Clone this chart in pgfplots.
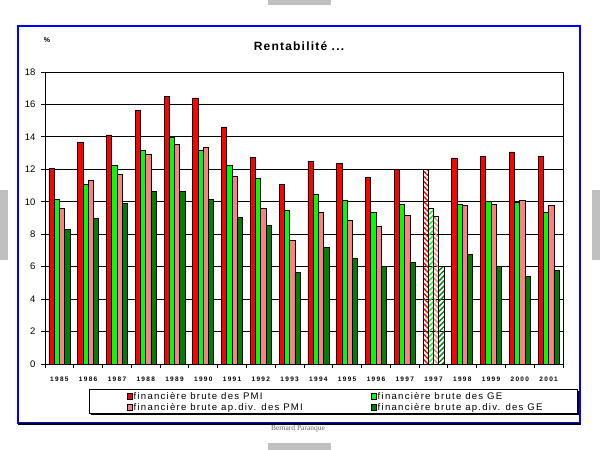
\documentclass[border=0pt]{standalone}
\usepackage{pgfplots}
\pgfplotsset{compat=1.18}
\usepackage{pgfplotstable}
\usetikzlibrary{patterns.meta}
\usepackage{fontspec}
\setmainfont{Liberation Sans}
\newfontfamily\tickfont[LetterSpace=20]{Liberation Sans}
\newfontfamily\legfont[LetterSpace=13]{Liberation Sans}
\newfontfamily\titlefont[LetterSpace=10]{Liberation Sans}
\newfontfamily\credfont{Liberation Serif}
\definecolor{cRed}{HTML}{FF0000}
\definecolor{cGreen}{HTML}{00FF00}
\definecolor{cPink}{HTML}{FF8080}
\definecolor{cDark}{HTML}{008000}
\definecolor{cGray}{HTML}{C0C0C0}

% x: 0..17 (13 = hatched 1997)
\pgfplotstableread{
x pmi ge pmiap geap
0 12.08 10.17 9.61 8.27
1 13.68 11.09 11.34 8.99
2 14.12 12.22 11.67 9.88
3 15.62 13.19 12.94 10.66
4 16.52 13.99 13.56 10.66
5 16.40 13.19 13.33 10.17
6 14.61 12.22 11.54 9.05
7 12.76 11.46 9.61 8.56
8 11.09 9.49 7.63 5.66
9 12.51 10.47 9.36 7.20
10 12.39 10.10 8.87 6.52
11 11.52 9.36 8.50 6.03
12 12.02 9.86 9.18 6.28
14 12.70 9.86 9.80 6.77
15 12.82 10.04 9.86 6.03
16 13.07 9.98 10.10 5.41
17 12.82 9.36 9.80 5.78
}\maindata
\pgfplotstableread{
x pmi ge pmiap geap
13 12.02 9.61 9.12 6.03
}\hatchdata

\begin{document}
\begin{tikzpicture}[x=1pt,y=1pt]
\fill[white] (0,0) rectangle (600,450);
% page decorations
\fill[cGray] (268,445) rectangle (331,450);
\fill[cGray] (268,0) rectangle (331,7);
\fill[cGray] (0,190) rectangle (8,260);
\fill[cGray] (592,190) rectangle (600,260);
% frame
\draw[blue, line width=1.3pt] (18,424) rectangle (580,27);
\draw[black, line width=1.2pt] (18,26) -- (581,26);
% legend box with shadow
\fill[black] (91,35) rectangle (579,59);
\draw[black, fill=white, line width=0.8pt] (89,37) rectangle (577,61);
% texts
\node[font=\titlefont\bfseries\fontsize{12}{14}\selectfont] at (299,404) {Rentabilité ...};
\node[font=\bfseries\fontsize{7}{8}\selectfont] at (47,410) {\%};
\node[font=\credfont\fontsize{7.5}{9}\selectfont, text=black!60] at (298,21) {Bernard Paranque};

\begin{axis}[
  at={(45pt,86pt)}, anchor=south west,
  scale only axis, width=518pt, height=292pt,
  xmin=-0.5, xmax=17.5, ymin=0, ymax=18,
  axis line style={black, line width=0.8pt},
  xtick={0,...,17},
  xticklabels={1985,1986,1987,1988,1989,1990,1991,1992,1993,1994,1995,1996,1997,1997,1998,1999,2000,2001},
  minor xtick={-0.5,0.5,...,17.5},
  major x tick style={draw=none},
  minor x tick style={draw=black, line width=0.8pt},
  minor tick length=4pt,
  ytick={0,2,...,18},
  yticklabels={0,2,4,6,8,10,12,14,16,18},
  major tick length=4pt,
  y tick style={black, line width=0.8pt},
  tick align=outside,
  xtick pos=bottom, ytick pos=left,
  ymajorgrids, grid style={black, line width=0.8pt},
  x tick label style={font=\tickfont\bfseries\fontsize{6.5}{7}\selectfont, yshift=-5pt},
  y tick label style={font=\fontsize{9.5}{11}\selectfont, xshift=-2pt},
  legend columns=2,
  legend style={draw=none, fill=none, at={(0.157,-0.092)}, anchor=north west,
    font=\legfont\fontsize{9.6}{10.5}\selectfont, inner sep=0pt, row sep=0.5pt,
    nodes={inner sep=1pt}},
  legend cell align=left,
  legend image code/.code={\draw[#1,draw=black,line width=0.6pt] (0pt,-2.7pt) rectangle (5.5pt,3pt);},
]
\addplot[ybar, bar width=0.182, bar shift=-0.273, fill=cRed, draw=black, line width=0.7pt] table[x=x,y=pmi] {\maindata};
\addlegendentry{\makebox[236pt][l]{financière brute des PMI}}
\addplot[ybar, bar width=0.182, bar shift=-0.091, fill=cGreen, draw=black, line width=0.7pt] table[x=x,y=ge] {\maindata};
\addlegendentry{financière brute des GE}
\addplot[ybar, bar width=0.182, bar shift=0.091, fill=cPink, draw=black, line width=0.7pt] table[x=x,y=pmiap] {\maindata};
\addlegendentry{\makebox[236pt][l]{financière brute ap.div. des PMI}}
\addplot[ybar, bar width=0.182, bar shift=0.273, fill=cDark, draw=black, line width=0.7pt] table[x=x,y=geap] {\maindata};
\addlegendentry{financière brute ap.div. des GE}
% hatched 1997
\addplot[forget plot, ybar, bar width=0.182, bar shift=-0.273, draw=black, line width=0.7pt, pattern={Lines[angle=-45,distance=3.6pt,line width=1.4pt]}, pattern color=cRed] table[x=x,y=pmi] {\hatchdata};
\addplot[forget plot, ybar, bar width=0.182, bar shift=-0.091, draw=black, line width=0.7pt, pattern={Lines[angle=45,distance=3.6pt,line width=1.4pt]}, pattern color=cGreen] table[x=x,y=ge] {\hatchdata};
\addplot[forget plot, ybar, bar width=0.182, bar shift=0.091, draw=black, line width=0.7pt, pattern={Lines[angle=-45,distance=3.6pt,line width=1.4pt]}, pattern color=cPink] table[x=x,y=pmiap] {\hatchdata};
\addplot[forget plot, ybar, bar width=0.182, bar shift=0.273, draw=black, line width=0.7pt, pattern={Lines[angle=45,distance=3.6pt,line width=1.4pt]}, pattern color=cDark] table[x=x,y=geap] {\hatchdata};
\end{axis}
\end{tikzpicture}
\end{document}
